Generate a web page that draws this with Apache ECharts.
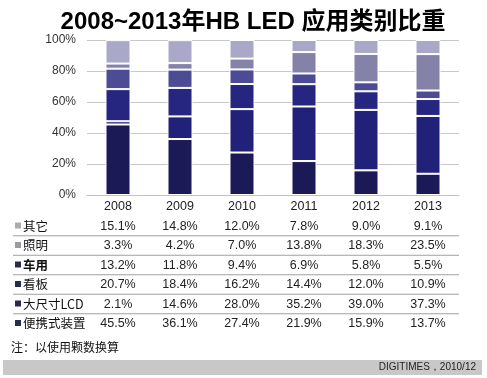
<!DOCTYPE html>
<html><head><meta charset="utf-8">
<script src="https://cdn.jsdelivr.net/npm/echarts@6/dist/echarts.min.js"></script>
<style>html,body{margin:0;padding:0;background:#fff;}#c{width:487px;height:378px;}</style>
</head><body><div id="c"></div>
<script>
const years = ['2008','2009','2010','2011','2012','2013'];
const seriesNames = ['便携式装置','大尺寸LCD','看板','车用','照明','其它'];
const portable = [45.5, 36.1, 27.4, 21.9, 15.9, 13.7];
const largeLCD = [2.1, 14.6, 28.0, 35.2, 39.0, 37.3];
const signage = [20.7, 18.4, 16.2, 14.4, 12.0, 10.9];
const automotive = [13.2, 11.8, 9.4, 6.9, 5.8, 5.5];
const lighting = [3.3, 4.2, 7.0, 13.8, 18.3, 23.5];
const others = [15.1, 14.8, 12.0, 7.8, 9.0, 9.1];
const yTicks = [0, 20, 40, 60, 80, 100];
const titleText = '2008~2013年HB LED 应用类别比重';
const noteText = '注：以使用颗数换算';
const sourceText = 'DIGITIMES，2010/12';

const values = [portable, largeLCD, signage, automotive, lighting, others];
const colors = ['#1b1a57', '#22217a', '#26257f', '#4c4b93', '#8482a8', '#a9a8c8'];
const markerColors = ['#2a2a4a', '#2a2a4a', '#2a2a4a', '#2a2a4a', '#9a9aa2', '#aaaab0'];
// table rows top to bottom
const tableOrder = [5, 4, 3, 2, 1, 0];

const chart = echarts.init(document.getElementById('c'));
const rowH = 19.5;
const firstRowY = 226;
const graphics = [];
tableOrder.forEach((si, r) => {
  const y = firstRowY + r * rowH;
  graphics.push({type:'rect', shape:{x:15, y:y-3.5, width:6, height:6}, style:{fill:markerColors[si]}});
  graphics.push({type:'text', x:23, y:y, style:{text:seriesNames[si], fill:'#111', font:(si===3?'bold ':'')+'12.5px "Noto Sans CJK SC", sans-serif', textVerticalAlign:'middle', verticalAlign:'middle'}});
  if (r < tableOrder.length - 1) {
    graphics.push({type:'line', shape:{x1:13, y1:y+rowH/2, x2:459, y2:y+rowH/2}, style:{stroke:'#a0a0a0', lineWidth:1}});
  }
});
graphics.push({type:'text', x:11, y:347, style:{text:noteText, fill:'#111', font:'12px "Noto Sans CJK SC", sans-serif', verticalAlign:'middle'}});
graphics.push({type:'rect', shape:{x:3, y:360, width:479, height:15}, style:{fill:'#c8c8c8'}});
graphics.push({type:'text', x:476, y:367.5, style:{text:sourceText, fill:'#222', font:'10px "Liberation Sans", Arial, sans-serif', align:'right', verticalAlign:'middle'}});
graphics.push({type:'text', x:253, y:22, style:{text:titleText, fill:'#000', font:'bold 24px "Liberation Sans", "Noto Sans CJK SC", sans-serif', align:'center', verticalAlign:'middle'}});

chart.setOption({
  animation:false,
  backgroundColor:'#fff',
  grid:{left:87, right:28, top:40, bottom:183},
  xAxis:{
    type:'category', data:years,
    axisLine:{show:true, lineStyle:{color:'#c0c0c0'}},
    axisTick:{show:false},
    axisLabel:{
      margin:2, fontSize:12.5, color:'#222', lineHeight:rowH,
      fontFamily:'"Liberation Sans", Arial, sans-serif',
      formatter:(v, i) => [v].concat(tableOrder.map(si => values[si][i].toFixed(1) + '%')).join('\n')
    }
  },
  yAxis:{
    type:'value', min:0, max:100, interval:20,
    axisLine:{show:false}, axisTick:{show:false},
    splitLine:{lineStyle:{color:'#c8c8c8'}},
    axisLabel:{margin:11, fontSize:12, color:'#333', fontFamily:'"Liberation Sans", Arial, sans-serif', formatter:'{value}%'}
  },
  series: seriesNames.map((n, si) => ({
    name:n, type:'bar', stack:'s', data:values[si], barWidth:25,
    itemStyle:{color:colors[si], borderColor:'#fff', borderWidth:1}
  })),
  graphic: graphics
});
</script></body></html>
